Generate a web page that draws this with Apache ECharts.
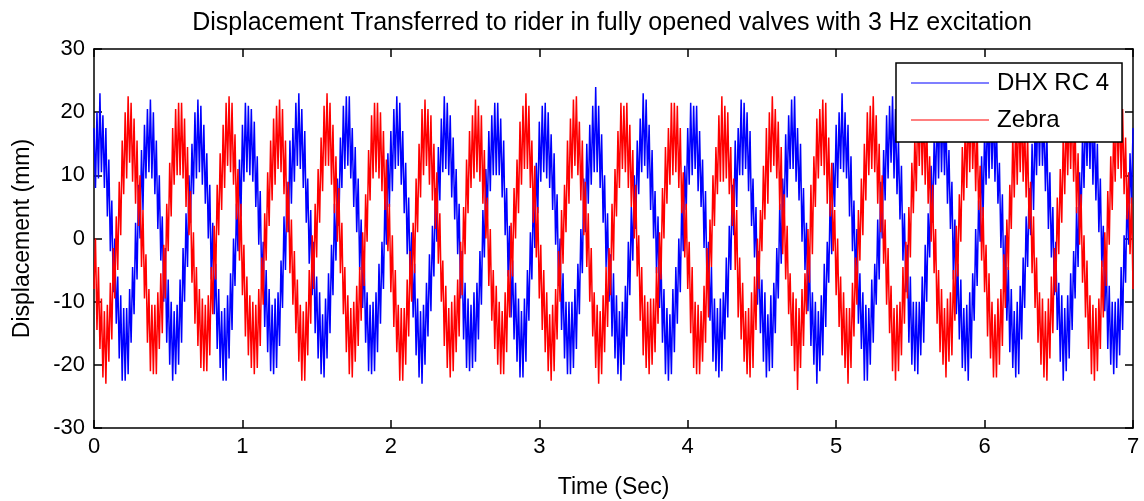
<!DOCTYPE html>
<html>
<head>
<meta charset="utf-8">
<script src="https://cdn.jsdelivr.net/npm/echarts@6/dist/echarts.min.js"></script>
<style>
  html, body { margin: 0; padding: 0; background: #fff; }
  #chart { width: 1144px; height: 501px; }
</style>
</head>
<body>
<div id="chart"></div>
<script>
// Displacement samples (mm), one every SAMPLE_STEP seconds from t = 0 to t = 7 s.
const SAMPLE_STEP = 0.01;

const TITLE = 'Displacement Transferred to rider in fully opened valves with 3 Hz excitation';
const X_NAME = 'Time (Sec)';
const Y_NAME = 'Displacement (mm)';
const SERIES_NAMES = ['DHX RC 4', 'Zebra'];
const X_TICKS = [0, 1, 2, 3, 4, 5, 6, 7];
const Y_TICKS = [-30, -20, -10, 0, 10, 20, 30];

const dhxRc4 = [
  17.5, 8, 20, 9.5, 23, 10.5, 19.5, 8, 17.5, 3.5,
  12.5, -2, 6, -8.5, 0, -13.5, -6, -19, -9, -22.5,
  -11, -22.5, -11, -21.5, -8, -16.5, -4.5, -12, 2.5, -6.5,
  8.5, 0, 14, 4.5, 18, 9.5, 20.5, 10.5, 22, 9.5,
  20, 7, 15.5, 1.5, 10, -3.5, 3.5, -10, -1.5, -16.5,
  -6.5, -20, -10, -22.5, -11.5, -21.5, -10.5, -20, -6.5, -16.5,
  -1.5, -10, 4, -4.5, 10, 2.5, 15, 7, 20, 9.5,
  22, 10.5, 21, 8.5, 18, 5.5, 13.5, 0, 8.5, -6.5,
  2.5, -12, -4, -17.5, -8, -20.5, -11.5, -22.5, -11, -22.5,
  -9, -19, -5.5, -14.5, 0, -7.5, 5.5, -2, 12.5, 3.5,

  18, 9, 21.5, 10.5, 21, 10, 20.5, 9, 18.5, 5,
  13, -1, 7.5, -7.5, -0.5, -14, -5, -18, -8, -21,
  -10.5, -21.5, -9.5, -20.5, -8.5, -17, -3.5, -11, 3.5, -5,
  9, 1, 15.5, 5.5, 17.5, 9, 21.5, 11.5, 23, 11,
  20.5, 8, 17, 2.5, 9.5, -4, 4.5, -9, -0.5, -15,
  -6, -19, -8.5, -21.5, -12, -22, -9.5, -19, -5.5, -15,
  -1, -9, 5.5, -3.5, 9.5, 2, 16, 8, 21, 11,
  22.5, 11.5, 22.5, 9.5, 17.5, 5, 14.5, 1, 9.5, -5,
  3, -11, -2.5, -16.5, -8.5, -21, -10.5, -21.5, -10, -21,
  -8.5, -18, -4, -13.5, -0.5, -8, 6.5, -1, 13.5, 5,

  17, 7.5, 20.5, 11, 22.5, 11.5, 21.5, 8.5, 17, 4,
  12, -2.5, 6.5, -7, 1, -12.5, -4, -18.5, -9.5, -22,
  -11.5, -23, -10.5, -20, -7, -15.5, -2.5, -11.5, 2, -6,
  8, -0.5, 14.5, 6, 19, 10.5, 22.5, 11, 21.5, 10,
  19.5, 6.5, 16, 3, 11, -2.5, 5.5, -9.5, -2, -16,
  -7, -20.5, -9.5, -21, -10.5, -20.5, -8.5, -19.5, -7, -16,
  -2, -10.5, 4.5, -3, 11, 3.5, 17, 7.5, 19.5, 10,
  21.5, 10, 21.5, 10, 19, 6.5, 15.5, 0.5, 8, -6,
  2, -12.5, -3.5, -16, -7, -19.5, -9.5, -22, -11.5, -22,
  -9.5, -19.5, -5, -13, 1, -6.5, 7.5, -1.5, 12, 4,

  18.5, 9, 21, 10.5, 21.5, 9.5, 20, 8, 16.5, 4.5,
  13.5, -1, 7, -7.5, 0, -14.5, -5.5, -19, -10, -21.5,
  -10, -21.5, -10, -20.5, -8, -17.5, -4, -12, 1.5, -5.5,
  9.5, 1, 15, 5.5, 18, 8.5, 21, 10.5, 24, 10.5,
  21, 8, 16.5, 2.5, 10, -4.5, 4, -10, -2.5, -15.5,
  -5.5, -19, -9, -21.5, -11.5, -22.5, -10, -20, -7.5, -15.5,
  -0.5, -9, 5, -3.5, 10, 1.5, 15.5, 7, 19, 10.5,
  23, 11.5, 22, 9.5, 18, 4.5, 14, 0, 7.5, -5.5,
  3.5, -11, -3, -16.5, -8, -21.5, -11, -22.5, -12, -21.5,
  -8, -18, -4.5, -13.5, 0, -8.5, 6, -2, 11.5, 4.5,

  17.5, 8.5, 21.5, 10, 21, 11, 21, 7.5, 17, 5,
  12.5, -1.5, 7.5, -8, -0.5, -13, -4.5, -19.5, -9.5, -21,
  -11, -22, -9.5, -21, -8.5, -16, -3, -12.5, 2, -5,
  8.5, 0.5, 15.5, 5, 17.5, 10, 22, 10, 21.5, 11,
  20, 7.5, 17, 2, 9.5, -3, 5, -10.5, -2, -15,
  -6.5, -19.5, -8.5, -22, -12, -21, -9, -20.5, -7, -15,
  -1.5, -9.5, 5.5, -4, 9.5, 3, 16.5, 6.5, 19.5, 11,
  22, 11, 22.5, 9, 17.5, 6, 15, -0.5, 8, -5,
  2.5, -11.5, -2.5, -17, -8.5, -20, -10, -23, -11.5, -21,
  -9, -18.5, -4, -14, -0.5, -7, 7, -2.5, 12, 5,

  18, 8, 20, 11, 23, 10.5, 20, 9.5, 18, 3.5,
  13, -2, 6, -7, 1.5, -13.5, -5.5, -17.5, -8.5, -22.5,
  -10.5, -22.5, -11, -20, -6.5, -16.5, -4, -10.5, 3, -6.5,
  9, 0, 14, 6, 19.5, 9.5, 21, 12, 22.5, 9.5,
  20.5, 7, 15.5, 3, 11.5, -3.5, 4, -8.5, -1, -16.5,
  -6, -20, -10, -21, -10, -21.5, -10, -18.5, -6, -16.5,
  -1, -10, 4, -3, 11.5, 2.5, 15.5, 8.5, 20.5, 9.5,
  22.5, 10.5, 21, 10, 19.5, 5.5, 14, 1.5, 9, -6.5,
  3, -12, -4, -16, -6.5, -20.5, -11, -21, -10.5, -22.5,
  -8.5, -19, -5.5, -13, 1.5, -7.5, 6, -0.5, 13, 3.5,

  17, 8.5, 21, 9.5, 22, 11, 21, 9, 18.5, 5.5,
  12, -1.5, 7, -8.5, 0.5, -13, -4.5, -18, -8, -20.5,
  -11.5, -22, -10, -21.5, -7.5, -16, -3, -11, 3.5, -4.5,
  8, 0.5, 15, 4.5, 18.5, 10, 22, 11.5, 23, 11.5,
  19.5, 7.5, 16.5, 1.5, 10.5, -3, 5, -9, -0.5, -14.5,
  -7, -19.5, -9, -22.5, -11, -21, -9, -19, -5.5, -14.5,
  -2, -9.5, 5, -4.5, 10.5, 3, 16.5, 8, 21, 11.5,
  21.5, 11, 22, 8.5, 18.5, 6, 15, 1, 9.5, -4.5,
  2, -11.5, -3, -17.5, -7.5, -20, -10, -21.5, -10, -20.5,
  -9.5, -18.5, -4.5, -14.5, 0.5, -7, 7, -1, 13.5, 5.5,
  17.5
];

const zebra = [
  -8, 0, -14.5, -4.5, -17.5, -9.5, -22, -11.5, -23, -10.5,
  -19.5, -7, -16, -1.5, -9.5, 3.5, -5, 9, 0.5, 15.5,
  7, 20, 9.5, 22.5, 12, 21.5, 9, 19, 5.5, 15.5,
  2, 10, -4.5, 4.5, -9.5, -2.5, -16.5, -8, -21, -10.5,
  -21.5, -10.5, -21.5, -8.5, -17.5, -5.5, -15, -1, -9.5, 5.5,
  -2, 12, 3.5, 17.5, 8.5, 20.5, 10, 21.5, 10, 21.5,
  9.5, 19, 5, 14.5, 0.5, 7.5, -7, 1, -13.5, -4.5,
  -17, -8, -20.5, -9.5, -21, -10.5, -21, -9, -18.5, -4.5,
  -12, 2, -6.5, 8.5, 0.5, 13.5, 4.5, 18, 8, 21.5,
  11.5, 22.5, 10.5, 21.5, 8.5, 16.5, 3, 11, -3.5, 5.5,

  -9, -1, -15.5, -6, -18.5, -9, -20.5, -10, -21.5, -10.5,
  -20.5, -8, -17, -3, -10.5, 4, -3.5, 10.5, 2, 15.5,
  6, 19, 8.5, 21, 11, 22, 10.5, 20.5, 7, 15.5,
  1, 9, -5.5, 3, -10.5, -2, -15, -6.5, -19.5, -10.5,
  -22.5, -11.5, -22.5, -10, -18.5, -5, -13.5, 0.5, -8, 5.5,
  -3, 11, 2.5, 16, 7.5, 21, 11.5, 23, 11.5, 21.5,
  8.5, 18, 4, 13, -0.5, 8, -5.5, 2.5, -12, -4.5,
  -18, -9, -21.5, -11, -22, -10, -19.5, -7.5, -17, -4.5,
  -13, 1, -7.5, 7, -0.5, 14, 6, 19.5, 9.5, 21.5,
  10.5, 21.5, 9.5, 20, 7.5, 17, 4.5, 12.5, -2, 5.5,

  -8.5, 0.5, -14, -5, -18, -10.5, -22.5, -11, -22.5, -11,
  -20, -6.5, -15.5, -2, -10, 2.5, -5.5, 9.5, 1, 15,
  6.5, 20.5, 10, 22, 11.5, 20.5, 8.5, 19.5, 6, 15,
  1.5, 10.5, -4, 4, -10, -3.5, -17, -7.5, -20.5, -11,
  -22, -10, -21, -9, -18, -6.5, -15.5, -0.5, -9, 5,
  -2.5, 12.5, 4, 17, 8, 19.5, 9.5, 22, 10.5, 21,
  9, 19.5, 5.5, 14, 0, 6.5, -7.5, 1.5, -13, -5,
  -17.5, -7.5, -20, -10, -21.5, -11.5, -21.5, -8.5, -18, -5,
  -12.5, 2.5, -6, 8, 0, 12.5, 4, 18.5, 8.5, 21,
  11, 23, 11, 21, 8, 15.5, 2.5, 11.5, -3, 5,

  -9.5, -1, -14.5, -5, -18, -8.5, -21, -12, -22.5, -10.5,
  -21, -8, -16, -2, -10, 4.5, -4, 8.5, 1, 15.5,
  5.5, 19, 9.5, 22, 11.5, 22.5, 10, 18.5, 6, 15.5,
  0.5, 9, -4.5, 4, -10, -1.5, -15.5, -8.5, -20.5, -10.5,
  -23, -11.5, -21.5, -9, -18, -4.5, -14, -1.5, -9, 5.5,
  -3.5, 11, 3.5, 17, 8, 21.5, 11, 21, 10.5, 21.5,
  8, 18, 5, 14, 0, 8.5, -6, 0.5, -13, -4.5,
  -18.5, -9, -20.5, -10, -21.5, -9.5, -20, -9.5, -18, -4.5,
  -13.5, 1, -6.5, 8, 0, 14.5, 5.5, 17.5, 8.5, 21.5,
  10, 21.5, 10.5, 21, 8, 17.5, 4, 10.5, -3, 5.5,

  -8, -0.5, -15, -4.5, -20.5, -10, -21.5, -10.5, -21.5, -11.5,
  -19.5, -7.5, -16.5, -1.5, -12.5, 3, -4.5, 10, 2, 14.5,
  7, 19.5, 9, 22.5, 9, 21, 9.5, 20, 7, 14.5,
  2, 9.5, -5, 4.5, -12.5, -3, -16, -7, -19.5, -11.5,
  -21.5, -11, -22, -8.5, -20.5, -6, -14.5, 0, -8, 4.5,
  -2, 11.5, 3, 17.5, 5.5, 20, 10.5, 22.5, 11.5, 20.5,
  9.5, 18.5, 4.5, 14.5, -2.5, 7, -6.5, 2, -12, -5.5,
  -17, -8.5, -21, -9.5, -24, -11, -20.5, -8, -17, -5.5,
  -12, 1.5, -7, 8.5, -2.5, 13, 5, 19, 9.5, 20.5,
  11.5, 22, 10, 21.5, 5.5, 16, 3.5, 12, -2, 4.5,

  -9, 0, -14, -6, -18.5, -8.5, -20.5, -11, -23, -11,
  -20.5, -7, -15.5, -3, -10.5, 4.5, -3.5, 9.5, 0.5, 15,
  6, 20, 10, 21, 11, 22.5, 10.5, 19.5, 5.5, 15,
  1, 10, -4, 3, -10.5, -1.5, -15, -7.5, -21, -11,
  -22.5, -10.5, -21, -10, -18.5, -4.5, -13.5, -0.5, -9.5, 5,
  -3, 12, 4, 16, 7.5, 21.5, 11.5, 22, 10, 21,
  8.5, 19, 5.5, 13, -0.5, 8.5, -5.5, 1.5, -13.5, -5,
  -18, -8, -20, -11, -22, -9.5, -19.5, -8.5, -18.5, -5,
  -13, 2, -6, 7, -0.5, 14.5, 6, 18.5, 8, 21,
  10.5, 22.5, 11, 20, 7.5, 17.5, 4.5, 11.5, -3.5, 5,

  -8.5, -1, -15.5, -5.5, -19, -10, -22, -12, -22, -9.5,
  -20, -8, -17, -2.5, -11, 3, -5, 8.5, 1.5, 16.5,
  6.5, 19, 8.5, 21.5, 10.5, 21, 9, 18.5, 6.5, 16.5,
  1.5, 9, -5.5, 3.5, -11, -3, -16.5, -8.5, -20, -9.5,
  -22, -11.5, -22.5, -9.5, -19, -6, -15, -1.5, -8.5, 6.5,
  -2.5, 11, 2.5, 16.5, 7, 20, 10, 21, 11, 22.5,
  9, 18, 4, 13.5, -1, 7, -7, 0.5, -12.5, -3.5,
  -17.5, -9, -21.5, -10.5, -22.5, -11, -21, -9.5, -17.5, -3.5,
  -12.5, 1, -7.5, 7.5, -1, 13, 4.5, 17.5, 9, 22.5,
  11, 21.5, 9.5, 20.5, 7, 16, 3, 10.5, -2.5, 6.5,
  -8
];

// Pair each sample with its time stamp for the value axis.
function toPoints(values) {
  return values.map((v, i) => [Math.round(i * SAMPLE_STEP * 100) / 100, v]);
}

const FONT = 'Liberation Sans, Arial, Helvetica, sans-serif';
const INK = '#000000';

const xMin = X_TICKS[0], xMax = X_TICKS[X_TICKS.length - 1], xStep = X_TICKS[1] - X_TICKS[0];
const yMin = Y_TICKS[0], yMax = Y_TICKS[Y_TICKS.length - 1], yStep = Y_TICKS[1] - Y_TICKS[0];

function frameAxis(extra) {
  return Object.assign({
    type: 'value',
    axisLine: { show: true, onZero: false, lineStyle: { color: INK, width: 1.5 } },
    axisTick: { show: true, inside: true, length: 8, lineStyle: { color: INK, width: 1.5 } },
    splitLine: { show: false },
    axisLabel: { show: false }
  }, extra);
}

const chart = echarts.init(document.getElementById('chart'), null, { renderer: 'canvas' });

chart.setOption({
  animation: false,
  backgroundColor: '#ffffff',
  title: {
    text: TITLE,
    left: 607,
    top: 6,
    textAlign: 'center',
    textStyle: { fontFamily: FONT, fontSize: 25, fontWeight: 'normal', color: INK }
  },
  grid: { left: 94, right: 11, top: 49, bottom: 73, containLabel: false, outerBoundsMode: 'none' },
  legend: {
    orient: 'vertical',
    left: 896,
    top: 63,
    padding: [8, 13, 10, 15],
    itemGap: 13,
    itemWidth: 78,
    itemHeight: 1.2,
    backgroundColor: '#ffffff',
    borderColor: INK,
    borderWidth: 1.5,
    borderRadius: 0,
    textStyle: { fontFamily: FONT, fontSize: 24, color: INK, lineHeight: 24, padding: [0, 0, 0, 3] },
    data: [
      { name: SERIES_NAMES[0], icon: 'rect' },
      { name: SERIES_NAMES[1], icon: 'rect' }
    ]
  },
  xAxis: [
    frameAxis({
      position: 'bottom',
      min: xMin, max: xMax, interval: xStep,
      name: X_NAME,
      nameLocation: 'middle',
      nameGap: 48,
      nameTextStyle: { fontFamily: FONT, fontSize: 23, color: INK },
      axisLabel: { show: true, margin: 8, fontFamily: FONT, fontSize: 22, color: INK }
    }),
    frameAxis({ position: 'top', min: xMin, max: xMax, interval: xStep })
  ],
  yAxis: [
    frameAxis({
      position: 'left',
      min: yMin, max: yMax, interval: yStep,
      name: Y_NAME,
      nameLocation: 'middle',
      nameGap: 60,
      nameTextStyle: { fontFamily: FONT, fontSize: 23, color: INK },
      axisLabel: { show: true, margin: 9, fontFamily: FONT, fontSize: 22, color: INK }
    }),
    frameAxis({ position: 'right', min: yMin, max: yMax, interval: yStep })
  ],
  series: [
    {
      name: SERIES_NAMES[0],
      type: 'line',
      xAxisIndex: 0,
      yAxisIndex: 0,
      data: toPoints(dhxRc4),
      showSymbol: false,
      symbol: 'none',
      smooth: false,
      lineStyle: { color: '#0000ff', width: 1.5 },
      itemStyle: { color: '#0000ff' },
      emphasis: { disabled: true }
    },
    {
      name: SERIES_NAMES[1],
      type: 'line',
      xAxisIndex: 0,
      yAxisIndex: 0,
      data: toPoints(zebra),
      showSymbol: false,
      symbol: 'none',
      smooth: false,
      lineStyle: { color: '#ff0000', width: 1.5 },
      itemStyle: { color: '#ff0000' },
      emphasis: { disabled: true }
    }
  ]
});
</script>
</body>
</html>
